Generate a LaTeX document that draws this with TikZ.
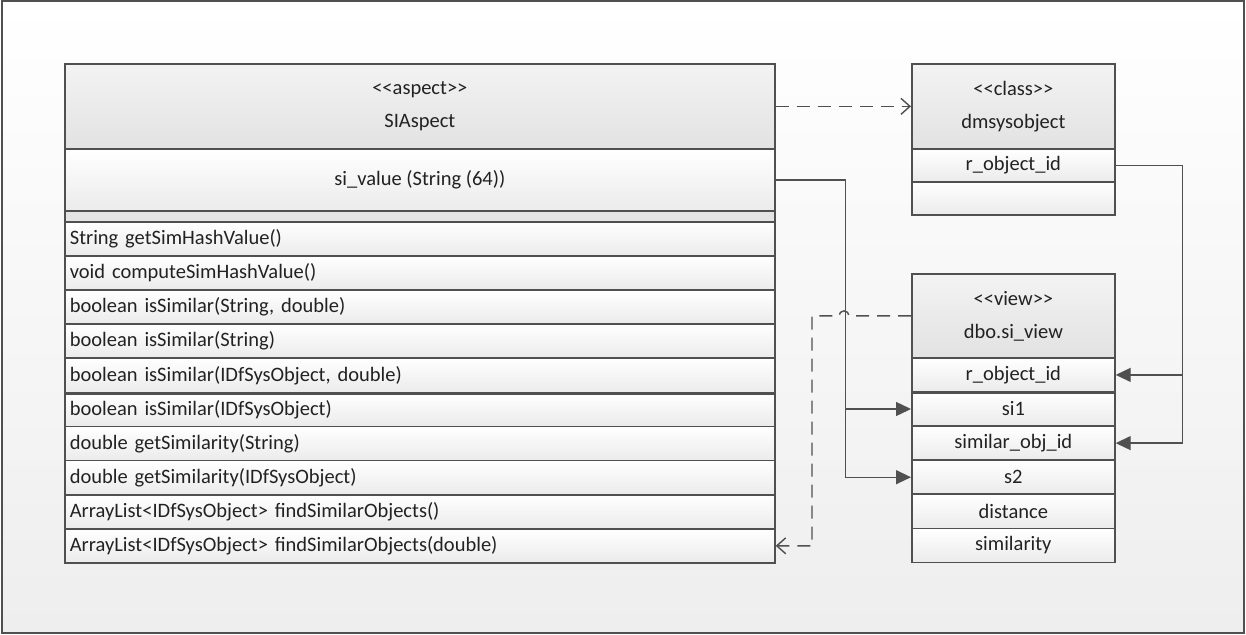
\documentclass[tikz,border=0pt]{standalone}
\usepackage{fontspec}
\setmainfont{Carlito}
\usetikzlibrary{arrows.meta}
\definecolor{ln}{HTML}{505050}
\definecolor{tx}{HTML}{222222}
\definecolor{hdtop}{HTML}{F3F3F3}
\definecolor{hdbot}{HTML}{E2E2E2}
\definecolor{rwbot}{HTML}{EBEBEB}
\definecolor{bgbot}{HTML}{EEEEEE}
\definecolor{opgray}{HTML}{E4E4E4}
\begin{document}
\begin{tikzpicture}[x=1pt,y=-1pt,
  box/.style={draw=ln, line width=1.7pt, inner sep=0pt, anchor=north west, text=tx,
    font=\fontsize{20.5}{33}\selectfont},
  head/.style={box, top color=hdtop, bottom color=hdbot, align=center},
  row/.style={box, top color=white, bottom color=rwbot, align=center, minimum width=203pt, minimum height=34.1pt},
  meth/.style={box, top color=white, bottom color=rwbot, text width=700pt, inner xsep=5pt,
    align=left, minimum width=710pt, minimum height=34.1pt},
  conn/.style={draw=ln, line width=1.4pt},
  dashpat/.style={dash pattern=on 13pt off 8pt},
  filled/.style={-{Triangle[length=15pt,width=14pt]}},
  open/.style={-{Straight Barb[length=9pt,width=16pt,line width=1.4pt]}}
]
\useasboundingbox (0,0) rectangle (1246,634);
\path[top color=white, bottom color=bgbot, draw=ln, line width=2pt] (1.5,1.5) rectangle (1243.5,632.5);

% SIAspect
\node[head, minimum width=710pt, minimum height=85pt] (asphead) at (64,63) {<{}<aspect>{}>\\SIAspect};
\node[box, top color=white, bottom color=rwbot, minimum width=710pt, minimum height=62pt] (aspattr) at (64,148) {si\_value (String (64))};
\node[box, fill=opgray, minimum width=710pt, minimum height=11pt] (aspop) at (64,210) {};
\node[meth] (m1) at (64,221.0) {String getSimHashValue()};
\node[meth] (m2) at (64,255.1) {void computeSimHashValue()};
\node[meth] (m3) at (64,289.2) {boolean isSimilar(String, double)};
\node[meth] (m4) at (64,323.3) {boolean isSimilar(String)};
\node[meth] (m5) at (64,357.4) {boolean isSimilar(IDfSysObject, double)};
\node[meth] (m6) at (64,391.5) {boolean isSimilar(IDfSysObject)};
\node[meth] (m7) at (64,425.6) {double getSimilarity(String)};
\node[meth] (m8) at (64,459.7) {double getSimilarity(IDfSysObject)};
\node[meth] (m9) at (64,493.8) {ArrayList<IDfSysObject> f{}indSimilarObjects()};
\node[meth] (m10) at (64,527.9) {ArrayList<IDfSysObject> f{}indSimilarObjects(double)};
\draw[ln, line width=3pt] (m5.south west) -- (m5.south east);

% dmsysobject
\node[head, minimum width=203pt, minimum height=85pt] (dmshead) at (911,63) {<{}<class>{}>\\dmsysobject};
\node[row, minimum height=33pt] (dmsrid) at (911,148) {r\_object\_id};
\node[row, minimum height=33pt] (dmsempty) at (911,181) {};

% dbo.si_view
\node[head, minimum width=203pt, minimum height=84pt] (vhead) at (911,273) {<{}<view>{}>\\dbo.si\_view};
\node[row] (vrid) at (911,357.0) {r\_object\_id};
\node[row] (vsi1) at (911,391.1) {si1};
\node[row] (vsim) at (911,425.2) {similar\_obj\_id};
\node[row] (vs2) at (911,459.3) {s2};
\node[row] (vdist) at (911,493.4) {distance};
\node[row] (vsimty) at (911,527.5) {similarity};
\draw[ln, line width=3pt] (vrid.south west) -- (vrid.south east);

% connectors
\draw[conn, dashpat, open] (asphead.east) -- (dmshead.west);
\draw[conn, filled] (aspattr.east) -- ++(70,0) coordinate (k1) |- (vsi1.west);
\draw[conn, filled] (k1) |- (vs2.west);
\draw[conn, filled] (dmsrid.east) -- ++(67,0) coordinate (k2) |- (vrid.east);
\draw[conn, filled] (k2) |- (vsim.east);
\coordinate (hopR) at (849,0);
\coordinate (dx) at (812,0);
\draw[conn, dashpat, open] (vhead.west) -- (vhead.west -| hopR)
  arc[start angle=0, end angle=180, radius=5pt] -- (vhead.west -| dx) |- (m10.east);
\end{tikzpicture}
\end{document}
